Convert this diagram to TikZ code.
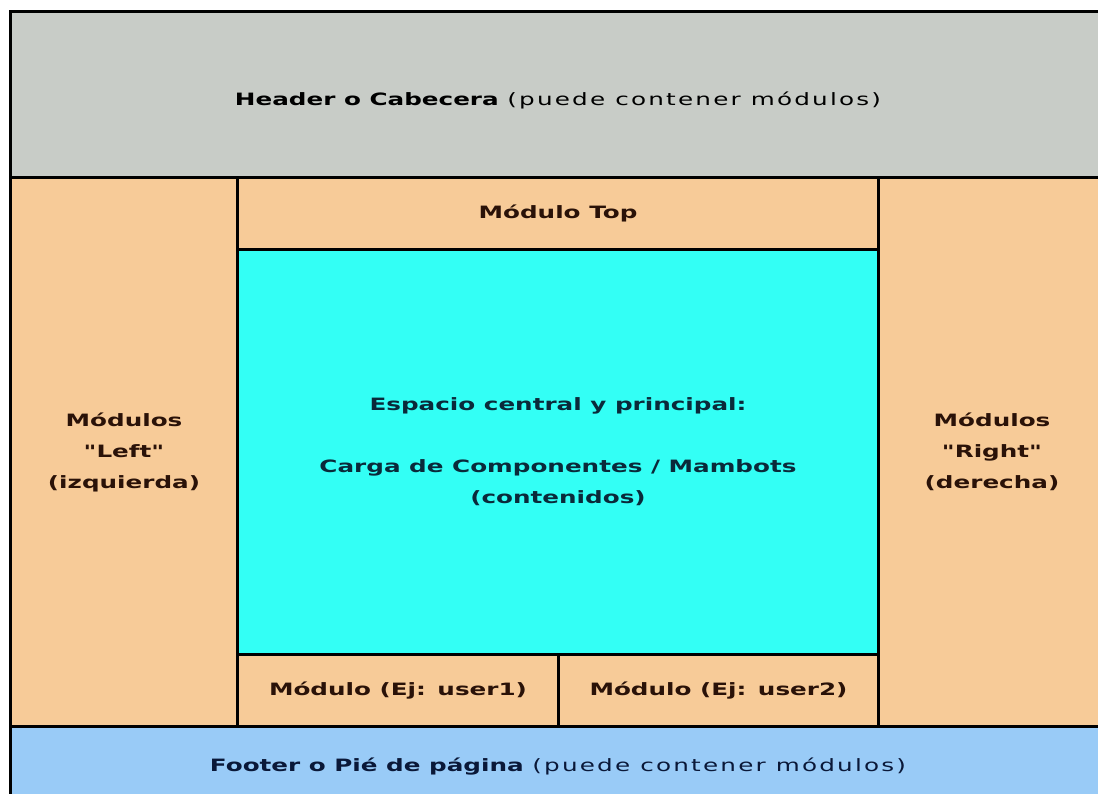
\documentclass[tikz,border=0pt]{standalone}
\usepackage{fontspec}
\newfontfamily\zonefont{DejaVu Sans}[FakeStretch=1.45]
\usepackage{xcolor}
\usepackage{tikz}
\usetikzlibrary{positioning,calc}

\definecolor{headgray}{HTML}{C8CCC7}
\definecolor{modorange}{HTML}{F7CB98}
\definecolor{maincyan}{HTML}{33FFF5}
\definecolor{footblue}{HTML}{99CBF7}
\definecolor{modtext}{HTML}{2A1208}
\definecolor{maintext}{HTML}{0A2A3A}
\definecolor{foottext}{HTML}{0A1838}

\newcommand{\thin}[1]{{\mdseries\addfontfeature{LetterSpace=13}#1}}

\begin{document}
\begin{tikzpicture}[x=1pt, y=-1pt,
    zone/.style={draw=black, line width=3pt, anchor=north west, inner sep=0pt,
        align=center, font=\zonefont\fontsize{17}{31}\selectfont\bfseries}]
    \useasboundingbox (0,0) rectangle (1098,793);
    \clip (0,0) rectangle (1098,793);

    \node[zone, fill=headgray, text height=22pt, text depth=0pt,
        minimum width=1095pt, minimum height=166pt] (header) at (9,10)
        {Header o Cabecera \thin{(puede contener módulos)}};
    \node[zone, fill=modorange, text=modtext, minimum width=227pt, minimum height=549pt] (left) at (9,176)
        {Módulos\\"Left"\\(izquierda)};
    \node[zone, fill=modorange, text=modtext, minimum width=641pt, minimum height=72pt] (top) at (236,176)
        {Módulo Top};
    \node[zone, fill=maincyan, text=maintext, minimum width=641pt, minimum height=405pt] (main) at (236,248)
        {Espacio central y principal:\\[31pt]Carga de Componentes / Mambots\\(contenidos)};
    \node[zone, fill=modorange, text=modtext, minimum width=321pt, minimum height=72pt] (userA) at (236,653)
        {Módulo (Ej: user1)};
    \node[zone, fill=modorange, text=modtext, minimum width=320pt, minimum height=72pt] (userB) at (557,653)
        {Módulo (Ej: user2)};
    \node[zone, fill=modorange, text=modtext, minimum width=227pt, minimum height=549pt] (right) at (877,176)
        {Módulos\\"Right"\\(derecha)};
    \node[zone, fill=footblue, text=foottext, minimum width=1095pt, minimum height=80pt] (footer) at (9,725)
        {Footer o Pié de página \thin{(puede contener módulos)}};
\end{tikzpicture}
\end{document}
